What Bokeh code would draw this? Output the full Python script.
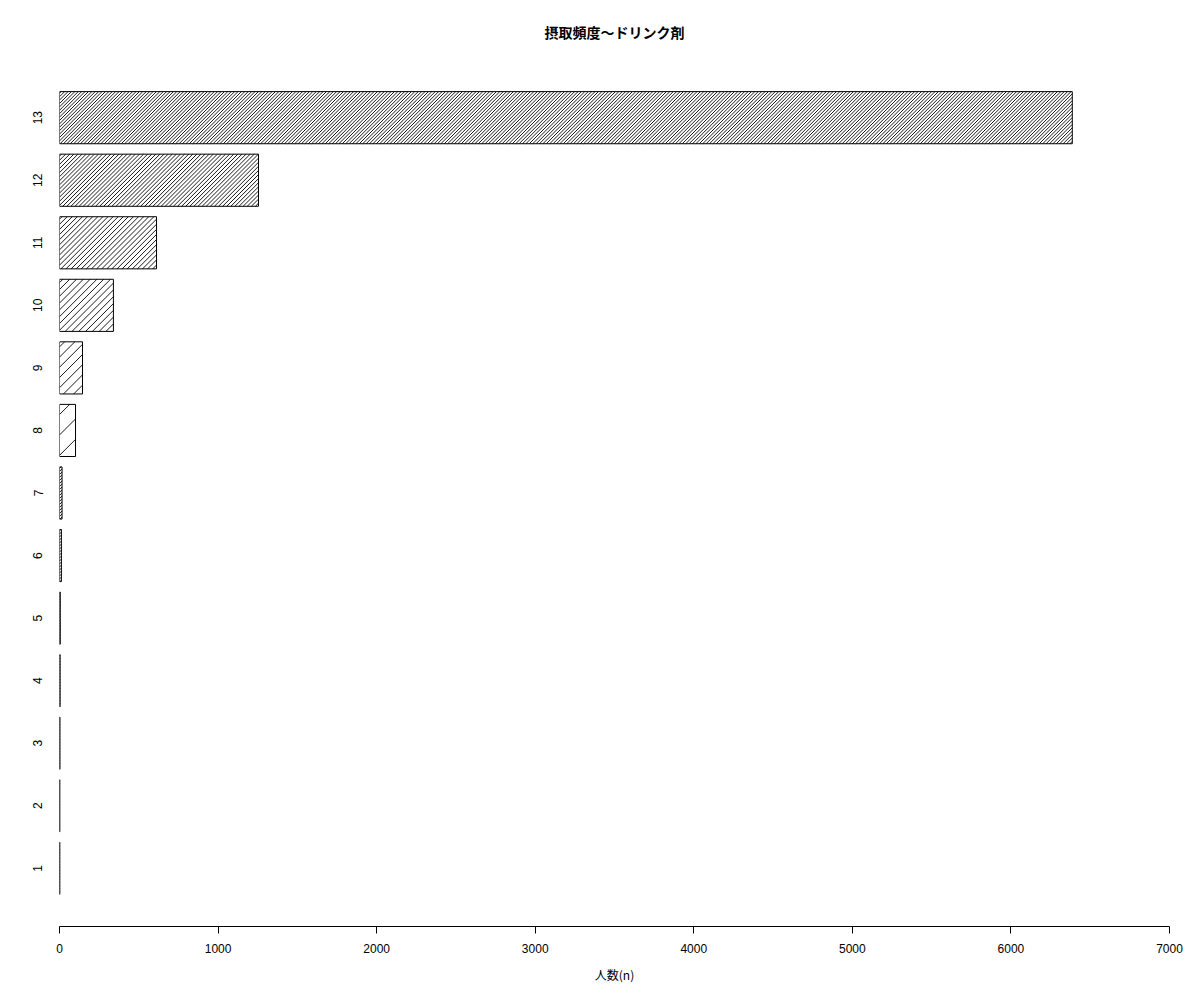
import numpy as np
from bokeh.plotting import figure
from bokeh.models import ColumnDataSource, Range1d, FixedTicker, Title
from bokeh.embed import file_html
from bokeh.resources import INLINE

# ---- data ----
categories = ["1", "2", "3", "4", "5", "6", "7", "8", "9", "10", "11", "12", "13"]
counts = [2, 2, 3, 4, 5, 12, 16, 101, 145, 340, 612, 1255, 6387]
x_ticks = [0, 1000, 2000, 3000, 4000, 5000, 6000, 7000]
title_text = "摂取頻度〜ドリンク剤"
xlabel_text = "人数(n)"

# ---- style ----
hatch_spacing_px = [3, 3, 3, 3, 3, 3, 3, 20.4, 10.2, 6.8, 5.1, 4.1, 3.4]
X0, X1 = 0, 7000
Y0, Y1 = 0.07, 13.93
BAR_H = 1 / 1.2
W, H = 1192, 992
BL, BR, BT, BB = 59, 23, 59, 66
FW, FH = W - BL - BR, H - BT - BB
kx = FW / (X1 - X0)   # px per data unit (x)
ky = FH / (Y1 - Y0)   # px per data unit (y)

positions = list(range(1, len(categories) + 1))
source = ColumnDataSource(dict(
    y=positions,
    right=counts,
    left=[0] * len(counts),
))

# hatch lines ("/") clipped to each bar, derived from the bar values
x0s, y0s, x1s, y1s = [], [], [], []
for pos, v, s in zip(positions, counts, hatch_spacing_px):
    bw = v * kx
    bh = BAR_H * ky
    ybot = pos - BAR_H / 2
    c = -bh + (s / 2)
    while c < bw:
        w_start = max(0.0, -c)
        w_end = min(bh, bw - c)
        if w_end > w_start:
            x0s.append((w_start + c) / kx)
            y0s.append(ybot + w_start / ky)
            x1s.append((w_end + c) / kx)
            y1s.append(ybot + w_end / ky)
        c += s

p = figure(
    width=W, height=H,
    output_backend="svg", toolbar_location=None,
    x_range=Range1d(X0, X1),
    y_range=Range1d(Y0, Y1),
    min_border_left=BL, min_border_right=BR,
    min_border_top=BT, min_border_bottom=BB,
)
p.title = Title(text=title_text, align="center",
                text_font="Noto Sans CJK JP", text_font_size="14px",
                text_font_style="bold", text_color="black", standoff=36)

p.hbar(y="y", left="left", right="right", height=BAR_H, source=source,
       fill_color="white", line_color=None)
p.segment(x0=x0s, y0=y0s, x1=x1s, y1=y1s, line_color="black", line_width=0.9)
p.hbar(y="y", left="left", right="right", height=BAR_H, source=source,
       fill_color=None, line_color="black", line_width=1)

p.outline_line_color = None
p.xgrid.visible = False
p.ygrid.visible = False
p.background_fill_color = "white"
p.border_fill_color = "white"

xa = p.xaxis[0]
xa.ticker = FixedTicker(ticks=x_ticks)
xa.major_tick_in = 0
xa.major_tick_out = 7
xa.minor_tick_line_color = None
xa.axis_line_color = "black"
xa.major_tick_line_color = "black"
xa.major_label_text_font = "Liberation Sans"
xa.major_label_text_font_size = "12px"
xa.major_label_text_color = "black"
xa.major_label_standoff = 10
xa.axis_label = xlabel_text
xa.axis_label_text_font = "Noto Sans CJK JP"
xa.axis_label_text_font_size = "12px"
xa.axis_label_text_font_style = "normal"
xa.axis_label_text_color = "black"
xa.axis_label_standoff = 10

ya = p.yaxis[0]
ya.ticker = FixedTicker(ticks=positions)
ya.major_label_overrides = {pos: c for pos, c in zip(positions, categories)}
ya.axis_line_color = None
ya.major_tick_line_color = None
ya.minor_tick_line_color = None
ya.major_label_orientation = "vertical"
ya.major_label_text_font = "Liberation Sans"
ya.major_label_text_font_size = "12px"
ya.major_label_text_color = "black"
ya.major_label_standoff = 11

open("out.html", "w").write(file_html(p, INLINE))
